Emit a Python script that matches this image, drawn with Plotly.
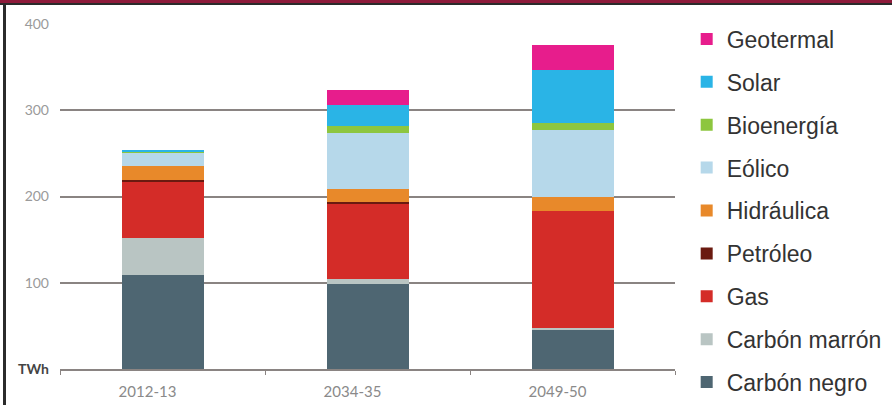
import plotly.graph_objects as go

periods = ["2012-13", "2034-35", "2049-50"]

# series, bottom to top of the stack
series_names = ["Carbón negro", "Carbón marrón", "Gas", "Petróleo", "Hidráulica",
                "Eólico", "Bioenergía", "Solar", "Geotermal"]
carbon_negro = [109, 99, 46]
carbon_marron = [43, 5, 1]
gas = [65, 88, 136]
petroleo = [2, 2, 0]
hidraulica = [16, 15, 16]
eolico = [16, 65, 78]
bioenergia = [1, 8, 8]
solar = [1.5, 24, 62]
geotermal = [0, 17, 29]
series_values = [carbon_negro, carbon_marron, gas, petroleo, hidraulica,
                 eolico, bioenergia, solar, geotermal]
series_colors = ["#4e6672", "#b9c5c3", "#d42c28", "#6a1a10", "#e8892a",
                 "#b6d8ea", "#8dc63f", "#2ab4e6", "#e71d8c"]

y_tickvals = [0, 100, 200, 300, 400]
y_ticktext = ["<span style='color:#444'><b>TWh</b></span>", "100", "200", "300", "400"]

fig = go.Figure()
for i, (name, vals, col) in enumerate(zip(series_names, series_values, series_colors)):
    fig.add_trace(go.Bar(
        x=periods, y=vals, name=name, legendgroup=name, legendrank=1000 - i,
        marker=dict(color=col, line=dict(width=0)),
    ))

grid_col = "#8a8482"
fig.update_layout(
    width=892, height=405,
    barmode="stack", bargap=0.6,
    paper_bgcolor="white", plot_bgcolor="white",
    margin=dict(l=60, r=217, t=24, b=36, autoexpand=False),
    font=dict(family="Liberation Sans, Arial, sans-serif"),
    showlegend=True,
    legend=dict(
        traceorder="grouped", tracegroupgap=10,
        x=1.019, xanchor="left", y=1.019, yanchor="top",
        maxheight=405,
        font=dict(size=23, color="#333333", family="Liberation Sans, Arial, sans-serif"),
        bgcolor="rgba(0,0,0,0)",
    ),
    xaxis=dict(
        range=[-0.5, 2.5], showgrid=False,
        showline=True, linecolor=grid_col, linewidth=1.5,
        ticks="outside", tickson="boundaries", ticklen=4, tickcolor=grid_col, tickwidth=1.2,
        tickfont=dict(size=15, color="#8a8a8a", family="Lato, Liberation Sans, sans-serif"),
        ticklabelshift=-15, ticklabelstandoff=8,
    ),
    yaxis=dict(
        range=[0, 400], tickvals=y_tickvals, ticktext=y_ticktext,
        showgrid=True, gridcolor=grid_col, gridwidth=1.6,
        zeroline=False, showline=False, ticks="",
        tickfont=dict(size=14, color="#9a9a9a", family="Lato, Liberation Sans, sans-serif"),
        ticklabelstandoff=10,
    ),
)

# frame decoration (top maroon band, dark rule, left dark rule)
def px_x(p):
    return (p - 60) / 615.0

def px_y(p):
    return (369 - p) / 345.0

fig.add_shape(type="rect", xref="paper", yref="paper",
              x0=px_x(0), x1=px_x(892), y0=px_y(3), y1=px_y(0),
              fillcolor="#8e1b3b", line=dict(width=0), layer="above")
fig.add_shape(type="rect", xref="paper", yref="paper",
              x0=px_x(0), x1=px_x(892), y0=px_y(5), y1=px_y(3),
              fillcolor="#2b2b2b", line=dict(width=0), layer="above")
fig.add_shape(type="rect", xref="paper", yref="paper",
              x0=px_x(3), x1=px_x(6), y0=px_y(405), y1=px_y(3),
              fillcolor="#2b2b2b", line=dict(width=0), layer="above")

fig.write_html("out.html", config={"displayModeBar": False},
               post_script="document.body.style.margin='0';")
